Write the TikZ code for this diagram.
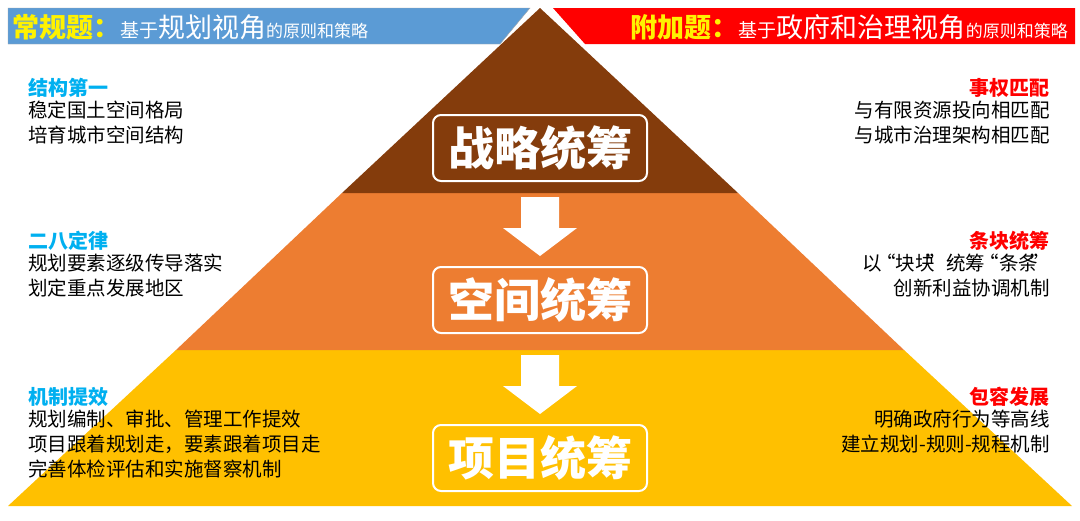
\documentclass[tikz,border=0pt]{standalone}
\usepackage{fontspec}
\setmainfont{Noto Sans CJK SC}
\definecolor{brn}{HTML}{843C0C}
\definecolor{org}{HTML}{ED7D31}
\definecolor{gld}{HTML}{FFC000}
\definecolor{bnblue}{HTML}{5B9BD5}
\definecolor{hcyan}{HTML}{00B0F0}
\tikzset{
 title/.style={draw=white,line width=2pt,rounded corners=8pt,minimum width=214pt,minimum height=66pt,text=white,font=\fontsize{46}{46}\selectfont\bfseries},
 bodyL/.style={anchor=north west,align=left,font=\fontsize{19.5}{25}\selectfont,text=black,inner sep=0pt},
 bodyR/.style={anchor=north east,align=right,font=\fontsize{19.5}{25}\selectfont,text=black,inner sep=0pt},
 headL/.style={anchor=west,font=\fontsize{20}{20}\selectfont\bfseries,text=hcyan,inner sep=0pt},
 headR/.style={anchor=east,font=\fontsize{20}{20}\selectfont\bfseries,text=red,inner sep=0pt},
}
\newcommand{\downarrowat}[2]{\fill[white] (#1-19,#2) -- (#1+19,#2) -- (#1+19,#2+31) -- (#1+37,#2+31) -- (#1,#2+59) -- (#1-37,#2+31) -- (#1-19,#2+31) -- cycle;}
\begin{document}
\begin{tikzpicture}[x=1pt,y=-1pt]
\useasboundingbox (0,0) rectangle (1080,520);
\fill[white] (0,0) rectangle (1080,520);
% pyramid
\fill[gld] (176,350) -- (904,350) -- (1072,506) -- (8,506) -- cycle;
\fill[org] (342,193) -- (738,193) -- (904,350) -- (176,350) -- cycle;
\fill[brn] (540,8) -- (738,193) -- (342,193) -- cycle;
% banners
\fill[bnblue,draw=gray!70] (8,8) -- (530,8) -- (500,44) -- (8,44) -- cycle;
\fill[red] (553,8) -- (1075,8) -- (1075,44) -- (585,44) -- cycle;
\node[anchor=west,inner sep=0pt] (bl) at (12,27) {\textcolor{yellow}{\fontsize{27}{27}\selectfont\bfseries 常规题：}\textcolor{white}{\fontsize{19}{19}\selectfont 基于}\textcolor{white}{\fontsize{27}{27}\selectfont 规划视角}\textcolor{white}{\fontsize{17}{17}\selectfont 的原则和策略}};
\node[anchor=east,inner sep=0pt] (br) at (1068,27) {\textcolor{yellow}{\fontsize{27}{27}\selectfont\bfseries 附加题：}\textcolor{white}{\fontsize{19}{19}\selectfont 基于}\textcolor{white}{\fontsize{27}{27}\selectfont 政府和治理视角}\textcolor{white}{\fontsize{17}{17}\selectfont 的原则和策略}};
% arrows
\downarrowat{540}{197}
\downarrowat{540}{355}
% titles
\node[title] (t1) at (540,148) {战略统筹};
\node[title] (t2) at (540,300) {空间统筹};
\node[title] (t3) at (540,458) {项目统筹};
% left texts
\node[headL] (hl1) at (28,88) {结构第一};
\node[bodyL] (bl1) at (28,101) {稳定国土空间格局\\培育城市空间结构};
\node[headL] (hl2) at (28,241) {二八定律};
\node[bodyL] (bl2) at (28,254) {规划要素逐级传导落实\\划定重点发展地区};
\node[headL] (hl3) at (28,397) {机制提效};
\node[bodyL] (bl3) at (28,410) {规划编制、审批、管理工作提效\\项目跟着规划走，要素跟着项目走\\完善体检评估和实施督察机制};
% right texts
\node[headR] (hr1) at (1050,88) {事权匹配};
\node[bodyR] (br1) at (1050,101) {与有限资源投向相匹配\\与城市治理架构相匹配};
\node[headR] (hr2) at (1050,241) {条块统筹};
\node[bodyR] (br2) at (1050,254) {以\kern-0.3em“块块\kern-0.4em”统筹\kern-0.3em“条条\kern-0.4em”\\创新利益协调机制};
\node[headR] (hr3) at (1050,397) {包容发展};
\node[bodyR] (br3) at (1050,410) {明确政府行为等高线\\建立规划-规则-规程机制};
\end{tikzpicture}
\end{document}
